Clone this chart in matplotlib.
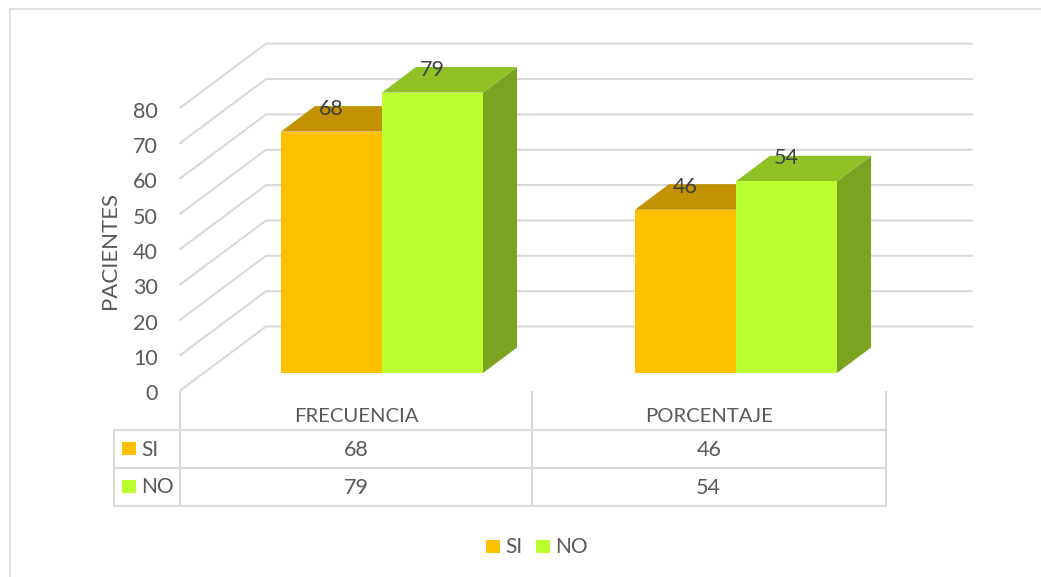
import matplotlib
matplotlib.use("Agg")
import matplotlib.pyplot as plt
from matplotlib.patches import Polygon, Rectangle

plt.rcParams['font.family'] = ['Lato', 'DejaVu Sans']

# Chart values
categories = ["FRECUENCIA", "PORCENTAJE"]
series_names = ["SI", "NO"]
si_values = [68, 46]
no_values = [79, 54]
y_ticks = list(range(0, 90, 10))
y_label = "PACIENTES"

# Colours
FRONT = {"SI": "#FFC000", "NO": "#BBFF2E"}
TOP = {"SI": "#C29200", "NO": "#8EC225"}
SIDE = {"SI": "#A37A00", "NO": "#7BA220"}
GRID = "#D9D9D9"
TEXT = "#595959"
FS = 15.5

W, H = 1041, 577
fig = plt.figure(figsize=(W / 100, H / 100), dpi=100, facecolor="white")
# Axes in pixel coordinates of the canvas, y pointing down
ax = fig.add_axes([0, 0, 1, 1])
ax.set_xlim(0, W)
ax.set_ylim(H, 0)
ax.axis("off")

# Projection of the 3D box
BASE_Y = 373.0      # floor level of the bar fronts
UNIT = 3.55         # pixels per value unit on the bar plane
STEP = 35.35        # pixels per ten units on the walls
DX, DY = 34.0, -25.5  # bar depth offset
WALL_X0, WALL_X1 = 266.0, 973.0
WALL_Y0 = 326.5
SIDE_X = 179.5
FRONT_Y0 = 391.0

BAR_W = 101.0
GROUP_X = [281.0, 635.0]


def line(xs, ys, lw=1.5):
    ax.plot(xs, ys, color=GRID, lw=lw, solid_capstyle="butt", zorder=1)


# Outer chart frame: left and top edges
line([9.5, 9.5, 1041], [577, 8.5, 8.5], lw=1.2)

# Floor-side wall lines and back-wall gridlines
for t in y_ticks:
    k = t / 10
    back_y = WALL_Y0 - k * STEP
    front_y = FRONT_Y0 - k * STEP
    line([SIDE_X, WALL_X0, WALL_X1], [front_y, back_y, back_y])
    ax.text(158, front_y + 3.5, str(t), ha="right", va="center",
            fontsize=FS, color=TEXT)

ax.text(110, 250.5, y_label, rotation=90, ha="center", va="center",
        fontsize=16, color=TEXT)


def bar(x, value, name):
    top = BASE_Y - value * UNIT
    x1 = x + BAR_W
    ax.add_patch(Polygon([(x1, BASE_Y), (x1 + DX, BASE_Y + DY),
                          (x1 + DX, top + DY), (x1, top)],
                         fc=SIDE[name], ec="none", zorder=3))
    ax.add_patch(Polygon([(x, top), (x + DX, top + DY),
                          (x1 + DX, top + DY), (x1, top)],
                         fc=TOP[name], ec="none", zorder=3))
    ax.add_patch(Rectangle((x, top), BAR_W, BASE_Y - top,
                           fc=FRONT[name], ec="none", zorder=4))
    ax.text(x + BAR_W / 2, top - 23, str(value), ha="center", va="center",
            fontsize=FS, color="#404040", zorder=6)


for gx, si, no in zip(GROUP_X, si_values, no_values):
    bar(gx, si, "SI")
    bar(gx + BAR_W, no, "NO")

# Data table under the plot
T_LEFT, T_A, T_B, T_RIGHT = 114.0, 180.0, 532.0, 885.5
T_TOP, R1, R2, R3 = FRONT_Y0, 429.5, 467.5, 506.0
for y in (R1, R2, R3):
    line([T_LEFT, T_RIGHT], [y, y])
line([T_LEFT, T_LEFT], [R1, R3])
for x in (T_A, T_B, T_RIGHT):
    line([x, x], [T_TOP, R3])

col_centres = [(T_A + T_B) / 2, (T_B + T_RIGHT) / 2]
for cx, cat, si, no in zip(col_centres, categories, si_values, no_values):
    ax.text(cx, 417, cat, ha="center", va="center", fontsize=14.6, color=TEXT)
    ax.text(cx, 450, str(si), ha="center", va="center", fontsize=FS, color=TEXT)
    ax.text(cx, 488, str(no), ha="center", va="center", fontsize=FS, color=TEXT)

for name, cy in zip(series_names, (448.5, 486)):
    ax.add_patch(Rectangle((122, cy - 6.5), 14, 13, fc=FRONT[name], ec="none"))
    ax.text(141, cy + 1, name, ha="left", va="center", fontsize=15, color=TEXT)

# Legend below the table
for name, sx in zip(series_names, (486, 536)):
    ax.add_patch(Rectangle((sx, 540), 14, 13, fc=FRONT[name], ec="none"))
    ax.text(sx + 19, 547, name, ha="left", va="center", fontsize=15, color=TEXT)

fig.savefig("out.png", dpi=100, facecolor="white")
